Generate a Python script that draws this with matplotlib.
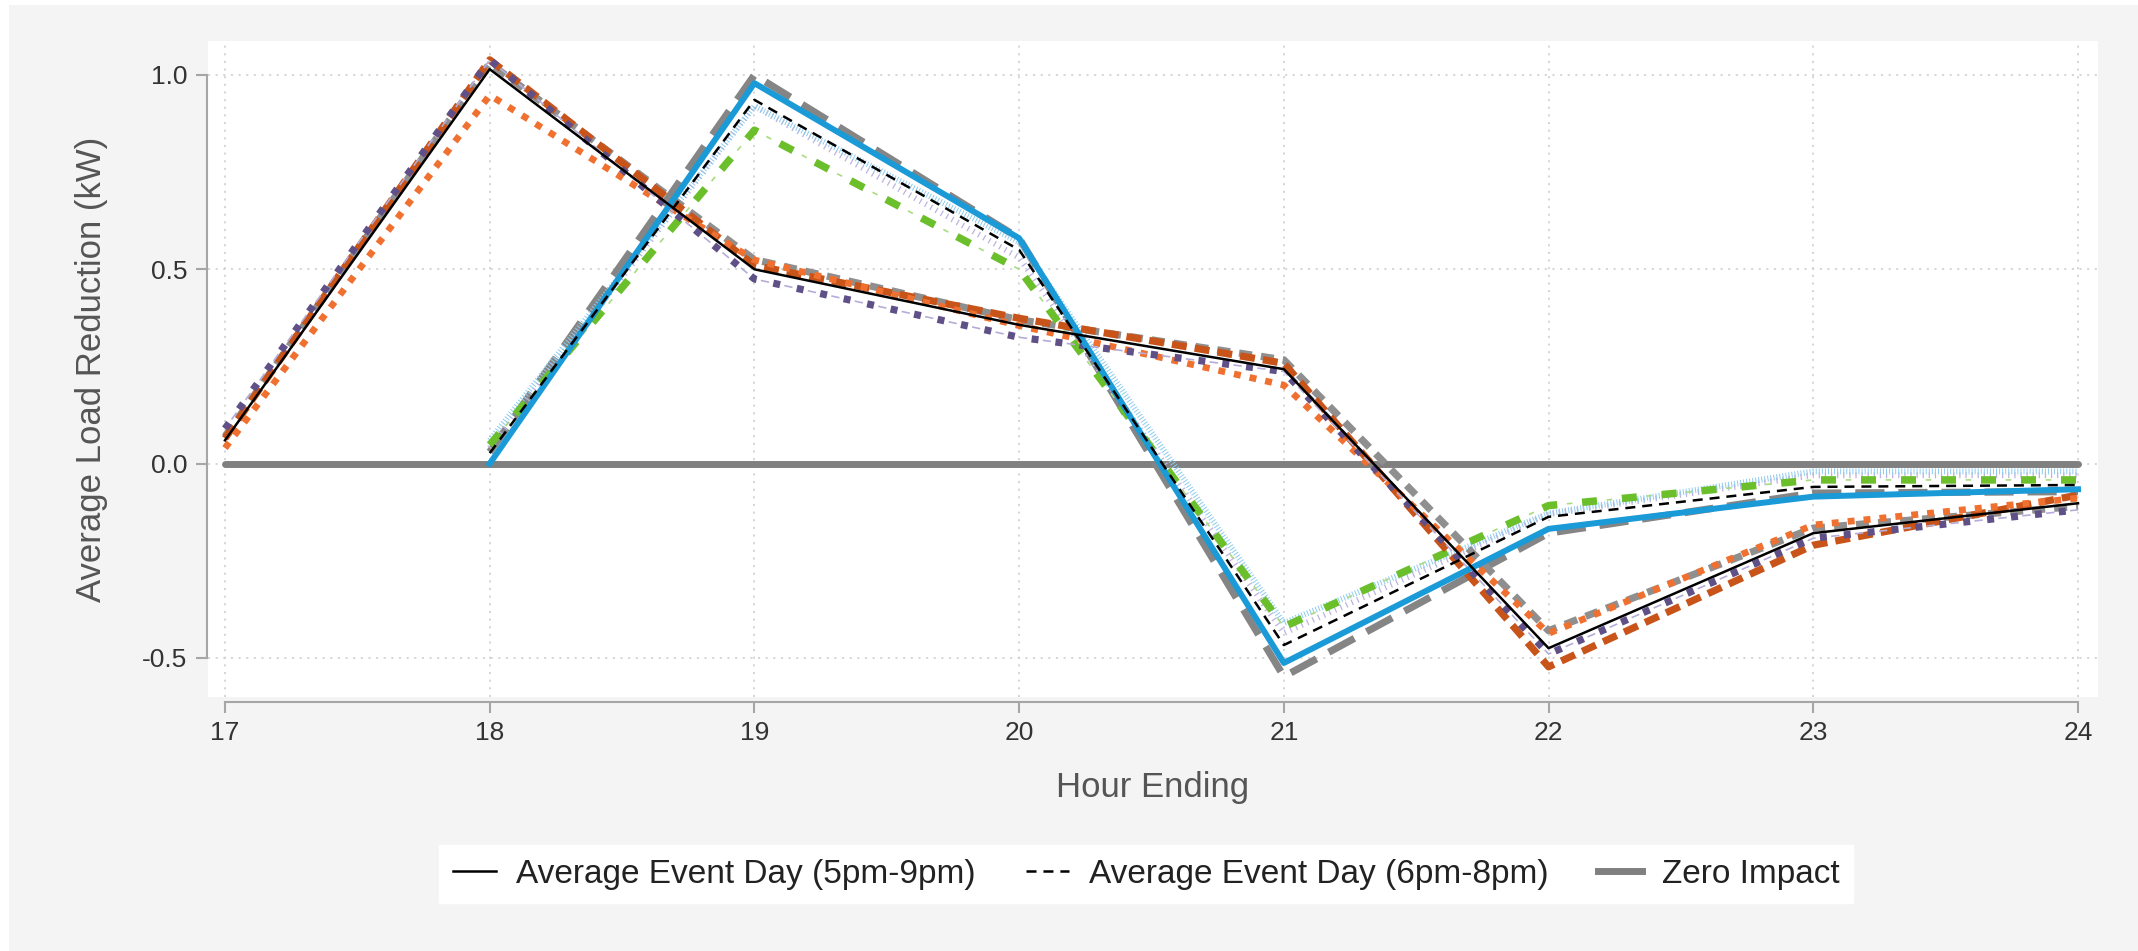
import numpy as np
import matplotlib
matplotlib.use("Agg")
import matplotlib.pyplot as plt
from matplotlib.lines import Line2D
from matplotlib.patches import Rectangle

plt.rcParams['font.family'] = ['Liberation Sans', 'DejaVu Sans']
plt.rcParams['lines.scale_dashes'] = False

# hours for the two event windows
hours_a = [17, 18, 19, 20, 21, 22, 23, 24]
hours_b = [18, 19, 20, 21, 22, 23, 24]

# 5pm-9pm event (starts at hour 17)
avg_5to9 = [0.060, 1.015, 0.500, 0.357, 0.243, -0.475, -0.179, -0.102]
gray_a = [0.070, 1.030, 0.525, 0.370, 0.267, -0.430, -0.166, -0.110]
orange_a = [0.040, 0.948, 0.524, 0.355, 0.202, -0.437, -0.158, -0.089]
rust_a = [0.065, 1.039, 0.510, 0.374, 0.258, -0.523, -0.210, -0.081]
purple_a = [0.090, 1.039, 0.475, 0.325, 0.237, -0.490, -0.192, -0.119]

# 6pm-8pm event (starts at hour 18)
avg_6to8 = [0.027, 0.936, 0.550, -0.467, -0.137, -0.060, -0.055]
gray_b = [0.030, 1.000, 0.580, -0.548, -0.179, -0.076, -0.072]
blue_b = [0.000, 0.979, 0.580, -0.513, -0.168, -0.085, -0.066]
green_b = [0.048, 0.858, 0.500, -0.420, -0.108, -0.042, -0.042]
ltblue_b = [0.060, 0.920, 0.570, -0.410, -0.128, -0.020, -0.020]
lavender_b = [0.040, 0.920, 0.530, -0.436, -0.130, -0.030, -0.030]

zero = [0.0] * len(hours_a)

y_ticks = [-0.5, 0.0, 0.5, 1.0]
y_labels = ['-0.5', '0.0', '0.5', '1.0']

W, H = 2138, 951
fig = plt.figure(figsize=(W / 100, H / 100), dpi=100, facecolor='white')
fig.patches.append(Rectangle((9 / W, 0), 1, 1 - 5 / H, transform=fig.transFigure,
                             facecolor='#f4f4f4', edgecolor='none', zorder=-10))

ax = fig.add_axes([208 / W, 1 - 697 / H, 1890 / W, 656 / H])
ax.set_facecolor('white')

# grid
for yv in y_ticks:
    ax.axhline(yv, color='#cfcfcf', lw=1.2, ls=(0, (1.5, 4)), zorder=0)
for xv in hours_a:
    ax.axvline(xv, color='#cfcfcf', lw=1.2, ls=(0, (1.5, 4)), zorder=0)

# zero impact
ax.plot(hours_a, zero, color='#808080', lw=5, solid_capstyle='round', zorder=1)

# 6pm-8pm group
ax.plot(hours_b, gray_b, color='#858585', lw=5.2, ls=(0, (21, 10)), zorder=2)
ax.plot(hours_b, lavender_b, color='#bcb3de', lw=4.3, ls=(0, (0.9, 3.5)), zorder=2)
ax.plot(hours_b, ltblue_b, color='#8ccbee', lw=4.3, ls=(0, (0.7, 1.5)), zorder=2)
ax.plot(hours_b, green_b, color='#a9db80', lw=1.2, ls=(11, (4, 24.8)), zorder=3)
ax.plot(hours_b, green_b, color='#6abf2a', lw=5.4, ls=(0, (10.8, 18)), zorder=3)
ax.plot(hours_b, blue_b, color='#1a9ad6', lw=4.3, zorder=4)

# 5pm-9pm group
ax.plot(hours_a, gray_a, color='#8f8f8f', lw=5.2, ls=(0, (9.4, 6.5)), zorder=2)
ax.plot(hours_a, rust_a, color='#c8541a', lw=5.2, ls=(0, (10.8, 5.8)), zorder=3)
ax.plot(hours_a, orange_a, color='#f07030', lw=4.8, ls=(0, (5, 6.5)), zorder=3)
ax.plot(hours_a, purple_a, color='#b5acd8', lw=1.2, ls=(9.15, (6, 11.3)), zorder=3)
ax.plot(hours_a, purple_a, color='#5f5088', lw=5.2, ls=(0, (5, 12.3)), zorder=3)

# averages
ax.plot(hours_a, avg_5to9, color='black', lw=1.8, zorder=6)
ax.plot(hours_b, avg_6to8, color='black', lw=1.8, ls=(0, (7.2, 5)), zorder=6)

ax.set_xlim(17 - 17 / 264.7, 24 + 20 / 264.7)
ax.set_ylim((463.6 - 697) / 388.6, (463.6 - 41) / 388.6)

for s in ['top', 'right']:
    ax.spines[s].set_visible(False)
ax.spines['left'].set_position(('outward', 1))
ax.spines['left'].set_bounds(-0.5, 1.0)
ax.spines['bottom'].set_position(('outward', 3.6))
ax.spines['bottom'].set_bounds(17, 24)
for s in ['left', 'bottom']:
    ax.spines[s].set_color('#a6a6a6')
    ax.spines[s].set_linewidth(1.5)

ax.set_yticks(y_ticks)
ax.set_yticklabels(y_labels)
ax.set_xticks(hours_a)
ax.tick_params(axis='both', colors='#a6a6a6', width=1.5, length=8, labelsize=19,
               labelcolor='#333333', pad=6)

ax.set_xlabel('Hour Ending', fontsize=25, color='#555555', va='center')
ax.xaxis.set_label_coords(0.5, -0.1387)
ax.set_ylabel('Average Load Reduction (kW)', fontsize=25, color='#555555', va='center')
ax.yaxis.set_label_coords(-0.0619, 0.5)

handles = [
    Line2D([], [], color='black', lw=1.8),
    Line2D([], [], color='black', lw=1.8, ls=(0, (7.2, 5))),
    Line2D([], [], color='#808080', lw=5),
]
labels = ['Average Event Day (5pm-9pm)', 'Average Event Day (6pm-8pm)', 'Zero Impact']
leg = fig.legend(handles, labels, loc='center', bbox_to_anchor=(1146 / W, 1 - 874 / H),
                 ncol=3, fontsize=24, frameon=True, fancybox=False, facecolor='white',
                 edgecolor='white', framealpha=1, handlelength=1.3, handletextpad=0.6,
                 columnspacing=1.5, borderpad=0.4)
for t in leg.get_texts():
    t.set_color('#222222')

fig.savefig('out.png', dpi=100, facecolor=fig.get_facecolor())
